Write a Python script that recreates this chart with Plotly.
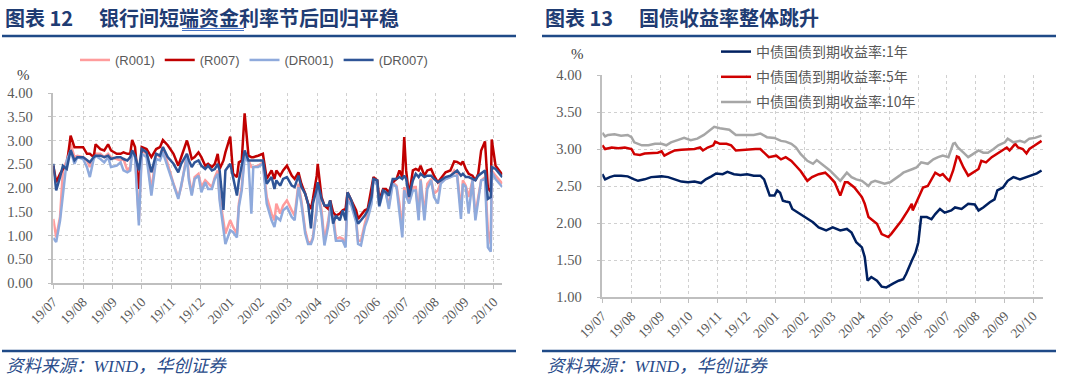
import plotly.graph_objects as go

# ---------------- Left chart data: interbank short-term rates (%) ----------------
mm_dates = [
    "2019-07-01", "2019-07-04", "2019-07-08", "2019-07-11", "2019-07-15", "2019-07-19", "2019-07-23", "2019-07-26",
    "2019-08-01", "2019-08-05", "2019-08-08", "2019-08-12", "2019-08-14", "2019-08-19", "2019-08-23", "2019-08-27",
    "2019-08-30", "2019-09-05", "2019-09-09", "2019-09-12", "2019-09-16", "2019-09-19", "2019-09-21", "2019-09-24",
    "2019-09-28", "2019-10-01", "2019-10-06", "2019-10-11", "2019-10-16", "2019-10-20", "2019-10-23", "2019-10-28",
    "2019-11-03", "2019-11-08", "2019-11-11", "2019-11-17", "2019-11-19", "2019-11-22", "2019-11-25", "2019-11-29",
    "2019-12-02", "2019-12-06", "2019-12-09", "2019-12-13", "2019-12-16", "2019-12-19", "2019-12-21", "2019-12-25",
    "2019-12-27", "2020-01-01", "2020-01-04", "2020-01-08", "2020-01-10", "2020-01-13", "2020-01-16", "2020-01-20",
    "2020-01-23", "2020-01-25", "2020-01-30", "2020-02-04", "2020-02-08", "2020-02-13", "2020-02-16", "2020-02-18",
    "2020-02-22", "2020-02-25", "2020-02-29", "2020-03-05", "2020-03-08", "2020-03-12", "2020-03-15", "2020-03-19",
    "2020-03-22", "2020-03-25", "2020-03-27", "2020-03-31", "2020-04-01", "2020-04-05", "2020-04-08", "2020-04-12",
    "2020-04-14", "2020-04-17", "2020-04-20", "2020-04-24", "2020-04-27", "2020-04-30", "2020-05-02", "2020-05-06",
    "2020-05-11", "2020-05-13", "2020-05-16", "2020-05-20", "2020-05-23", "2020-05-27", "2020-05-29", "2020-06-02",
    "2020-06-04", "2020-06-08", "2020-06-11", "2020-06-14", "2020-06-18", "2020-06-22", "2020-06-25", "2020-06-28",
    "2020-06-30", "2020-07-02", "2020-07-05", "2020-07-09", "2020-07-12", "2020-07-15", "2020-07-17", "2020-07-21",
    "2020-07-24", "2020-07-28", "2020-07-31", "2020-08-04", "2020-08-07", "2020-08-12", "2020-08-17", "2020-08-21",
    "2020-08-24", "2020-08-28", "2020-08-30", "2020-09-02", "2020-09-05", "2020-09-09", "2020-09-12", "2020-09-15",
    "2020-09-18", "2020-09-22", "2020-09-25", "2020-09-28", "2020-09-29", "2020-10-03", "2020-10-10",
]
r001 = [
    1.35, 0.96, 1.39, 2.37, 2.58, 2.93, 2.65, 2.68, 2.65, 2.58, 2.44, 2.61, 2.72, 2.72, 2.65, 2.72,
    2.65, 2.61, 2.58, 2.61, 2.37, 2.44, 2.79, 2.72, 1.32, 2.79, 2.72, 1.95, 2.72, 2.65, 2.86, 2.51,
    2.09, 1.81, 2.02, 2.72, 2.23, 1.88, 2.23, 2.30, 2.02, 2.16, 2.09, 2.02, 2.23, 2.37, 1.81, 1.32,
    1.04, 1.32, 1.18, 1.04, 1.67, 2.02, 2.75, 2.58, 2.44, 2.44, 2.47, 2.54, 1.81, 1.46, 1.32, 1.67,
    1.46, 1.63, 1.74, 1.53, 1.42, 2.09, 1.74, 1.11, 0.86, 0.86, 0.96, 1.60, 2.02, 1.53, 0.89, 1.32,
    1.60, 1.49, 0.93, 0.96, 0.93, 0.82, 1.81, 1.67, 1.32, 0.89, 0.89, 1.25, 1.46, 1.74, 2.19, 2.09,
    1.67, 1.95, 1.88, 1.63, 2.12, 2.05, 1.67, 1.11, 2.02, 1.91, 1.70, 2.02, 2.02, 1.39, 2.19, 1.46,
    2.09, 2.19, 1.88, 1.95, 2.12, 2.19, 2.23, 2.37, 2.30, 1.53, 2.16, 2.05, 1.81, 2.16, 1.42, 1.81,
    2.16, 2.23, 1.11, 0.82, 2.37, 2.26, 2.09,
]
r007 = [
    2.47, 2.12, 2.30, 2.40, 2.47, 3.10, 2.86, 2.86, 2.86, 2.72, 2.72, 2.65, 2.92, 2.82, 2.79, 2.92,
    2.79, 2.72, 2.72, 2.75, 2.72, 2.72, 3.01, 2.86, 1.98, 2.86, 2.82, 2.65, 2.82, 2.86, 3.01, 2.90,
    2.72, 2.47, 2.65, 3.00, 2.86, 2.61, 2.65, 2.75, 2.65, 2.47, 2.51, 2.44, 2.51, 2.72, 2.40, 2.58,
    2.75, 3.08, 2.30, 2.23, 2.54, 2.58, 3.57, 2.68, 2.65, 2.65, 2.68, 2.72, 2.19, 2.37, 2.19, 2.37,
    2.26, 2.37, 2.47, 2.26, 2.19, 2.33, 2.09, 1.88, 1.67, 1.56, 1.77, 2.26, 2.51, 1.81, 1.63, 1.56,
    1.74, 1.49, 1.42, 1.46, 1.53, 1.56, 1.91, 1.74, 1.53, 1.35, 1.42, 1.53, 1.56, 2.02, 2.23, 2.16,
    1.74, 1.98, 1.98, 1.91, 2.12, 2.19, 2.37, 2.23, 3.07, 2.37, 1.84, 2.37, 2.40, 2.37, 2.47, 2.26,
    2.37, 2.40, 2.26, 2.12, 2.19, 2.33, 2.37, 2.56, 2.55, 2.50, 2.56, 2.40, 2.30, 2.26, 2.16, 2.30,
    2.79, 2.98, 2.00, 1.92, 3.02, 2.47, 2.28,
]
dr001 = [
    0.95, 0.86, 1.31, 1.80, 2.58, 2.79, 2.51, 2.65, 2.61, 2.44, 2.23, 2.61, 2.68, 2.61, 2.54, 2.65,
    2.44, 2.47, 2.54, 2.37, 2.33, 2.37, 2.75, 2.65, 1.21, 2.72, 2.65, 1.84, 2.61, 2.58, 2.75, 2.44,
    2.05, 1.77, 2.05, 2.65, 2.16, 1.84, 2.19, 2.26, 1.91, 2.12, 1.98, 1.98, 2.19, 2.30, 1.74, 1.11,
    0.82, 1.11, 1.07, 0.96, 1.60, 1.95, 2.65, 2.54, 1.46, 2.44, 2.44, 2.51, 1.67, 1.32, 1.18, 1.39,
    1.32, 1.53, 1.60, 1.39, 1.32, 2.02, 1.67, 1.04, 0.82, 0.82, 0.93, 1.53, 1.95, 1.42, 0.79, 1.21,
    1.60, 1.32, 0.89, 0.89, 0.89, 0.75, 1.74, 1.63, 1.28, 0.82, 0.79, 1.18, 1.35, 1.67, 2.19, 2.05,
    1.60, 1.91, 1.88, 1.56, 2.09, 2.02, 1.46, 0.96, 1.95, 1.84, 1.67, 1.95, 1.95, 1.32, 2.16, 1.32,
    1.98, 2.16, 1.81, 1.67, 2.09, 2.19, 2.23, 2.26, 2.26, 1.35, 2.09, 2.02, 1.46, 2.16, 1.32, 1.74,
    2.16, 2.19, 0.75, 0.66, 2.33, 2.19, 2.02,
]
dr007 = [
    2.51, 1.95, 2.23, 2.47, 2.40, 2.80, 2.58, 2.65, 2.65, 2.58, 2.54, 2.65, 2.68, 2.68, 2.65, 2.68,
    2.61, 2.65, 2.65, 2.61, 2.58, 2.65, 2.79, 2.68, 2.37, 2.82, 2.75, 2.33, 2.72, 2.68, 2.86, 2.65,
    2.51, 2.33, 2.51, 2.72, 2.58, 2.44, 2.54, 2.58, 2.47, 2.40, 2.47, 2.37, 2.40, 2.51, 2.37, 1.54,
    2.37, 2.51, 2.19, 1.84, 2.16, 2.44, 2.79, 2.58, 2.58, 2.58, 2.58, 2.58, 2.09, 2.23, 1.98, 2.16,
    2.05, 2.19, 2.23, 2.05, 2.02, 2.26, 2.02, 1.88, 1.67, 1.15, 1.67, 1.98, 2.12, 1.77, 1.63, 1.63,
    1.74, 1.25, 1.42, 1.32, 1.53, 1.32, 1.91, 1.74, 1.39, 1.25, 1.32, 1.42, 1.53, 1.81, 2.19, 2.16,
    1.63, 1.95, 1.91, 1.84, 2.19, 2.19, 2.23, 2.19, 2.26, 2.19, 1.81, 2.16, 2.30, 2.23, 2.30, 2.23,
    2.26, 2.26, 2.19, 2.12, 2.16, 2.23, 2.26, 2.33, 2.37, 2.26, 2.30, 2.23, 2.23, 2.19, 2.16, 2.26,
    2.30, 2.37, 1.77, 1.81, 2.44, 2.40, 2.23,
]
mm_names = ["(R001)", "(R007)", "(DR001)", "(DR007)"]
mm_colors = ["#FF9C9C", "#C00000", "#8FAADC", "#2F5597"]

# ---------------- Right chart data: ChinaBond government bond yields (%) ----------------
y1_dates = [
    "2019-07-01", "2019-07-04", "2019-07-09", "2019-07-14", "2019-07-21", "2019-07-28", "2019-08-04", "2019-08-08",
    "2019-08-15", "2019-08-22", "2019-09-02", "2019-09-09", "2019-09-16", "2019-09-23", "2019-09-30", "2019-10-07",
    "2019-10-14", "2019-10-19", "2019-10-25", "2019-10-30", "2019-11-06", "2019-11-11", "2019-11-18", "2019-11-25",
    "2019-12-02", "2019-12-09", "2019-12-16", "2019-12-20", "2019-12-23", "2019-12-26", "2019-12-31", "2020-01-03",
    "2020-01-06", "2020-01-09", "2020-01-12", "2020-01-16", "2020-01-19", "2020-01-25", "2020-01-30", "2020-02-04",
    "2020-02-10", "2020-02-16", "2020-02-24", "2020-03-02", "2020-03-10", "2020-03-17", "2020-03-22", "2020-03-27",
    "2020-04-02", "2020-04-05", "2020-04-08", "2020-04-12", "2020-04-18", "2020-04-23", "2020-04-28", "2020-05-05",
    "2020-05-11", "2020-05-16", "2020-05-19", "2020-05-25", "2020-05-29", "2020-06-01", "2020-06-04", "2020-06-10",
    "2020-06-15", "2020-06-19", "2020-06-24", "2020-06-29", "2020-07-06", "2020-07-10", "2020-07-17", "2020-07-24",
    "2020-07-31", "2020-08-04", "2020-08-09", "2020-08-16", "2020-08-21", "2020-08-24", "2020-08-30", "2020-09-04",
    "2020-09-10", "2020-09-17", "2020-09-24", "2020-09-29", "2020-10-05", "2020-10-10",
]
y1 = [
    2.66, 2.59, 2.62, 2.64, 2.64, 2.63, 2.59, 2.57, 2.59, 2.62, 2.63, 2.62, 2.59, 2.56, 2.55, 2.56,
    2.54, 2.59, 2.63, 2.67, 2.66, 2.69, 2.66, 2.65, 2.66, 2.64, 2.64, 2.59, 2.48, 2.37, 2.37, 2.44,
    2.41, 2.30, 2.29, 2.28, 2.19, 2.14, 2.10, 2.05, 2.01, 1.94, 1.90, 1.94, 1.90, 1.92, 1.87, 1.74,
    1.67, 1.54, 1.22, 1.27, 1.22, 1.14, 1.13, 1.18, 1.22, 1.24, 1.31, 1.49, 1.60, 1.74, 2.08, 2.08,
    2.05, 2.12, 2.19, 2.14, 2.17, 2.21, 2.19, 2.26, 2.25, 2.17, 2.21, 2.28, 2.32, 2.44, 2.48, 2.57,
    2.62, 2.59, 2.62, 2.64, 2.67, 2.71,
]
y5_dates = [
    "2019-07-01", "2019-07-04", "2019-07-11", "2019-07-18", "2019-07-25", "2019-08-01", "2019-08-04", "2019-08-10",
    "2019-08-15", "2019-08-22", "2019-08-29", "2019-09-02", "2019-09-05", "2019-09-11", "2019-09-16", "2019-09-23",
    "2019-09-30", "2019-10-07", "2019-10-13", "2019-10-16", "2019-10-21", "2019-10-27", "2019-10-29", "2019-11-03",
    "2019-11-10", "2019-11-15", "2019-11-20", "2019-11-27", "2019-12-04", "2019-12-11", "2019-12-16", "2019-12-20",
    "2019-12-25", "2020-01-02", "2020-01-07", "2020-01-12", "2020-01-18", "2020-01-23", "2020-01-28", "2020-02-04",
    "2020-02-09", "2020-02-16", "2020-02-23", "2020-02-28", "2020-03-04", "2020-03-10", "2020-03-15", "2020-03-18",
    "2020-03-25", "2020-04-02", "2020-04-05", "2020-04-09", "2020-04-14", "2020-04-18", "2020-04-23", "2020-04-30",
    "2020-05-03", "2020-05-09", "2020-05-14", "2020-05-21", "2020-05-25", "2020-05-26", "2020-06-03", "2020-06-06",
    "2020-06-11", "2020-06-13", "2020-06-19", "2020-06-24", "2020-06-27", "2020-07-02", "2020-07-04", "2020-07-08",
    "2020-07-12", "2020-07-14", "2020-07-19", "2020-07-24", "2020-07-29", "2020-08-04", "2020-08-07", "2020-08-12",
    "2020-08-18", "2020-08-23", "2020-08-28", "2020-09-03", "2020-09-06", "2020-09-12", "2020-09-15", "2020-09-20",
    "2020-09-24", "2020-09-27", "2020-10-03", "2020-10-08", "2020-10-10",
]
y5 = [
    3.05, 3.00, 3.02, 3.01, 3.02, 3.00, 2.93, 2.92, 2.94, 2.95, 2.95, 2.97, 2.91, 2.95, 2.98, 2.99,
    3.00, 3.00, 3.02, 2.98, 3.02, 3.05, 3.10, 3.07, 3.07, 3.05, 2.98, 2.99, 2.99, 3.00, 3.00, 2.95,
    2.89, 2.91, 2.86, 2.89, 2.84, 2.77, 2.70, 2.57, 2.62, 2.66, 2.68, 2.62, 2.55, 2.37, 2.55, 2.55,
    2.48, 2.35, 2.26, 2.08, 2.03, 1.99, 1.85, 1.81, 1.85, 1.94, 2.03, 2.17, 2.26, 2.17, 2.39, 2.48,
    2.50, 2.55, 2.68, 2.64, 2.66, 2.59, 2.57, 2.71, 2.90, 2.89, 2.75, 2.64, 2.68, 2.73, 2.84, 2.82,
    2.89, 2.93, 2.98, 3.02, 2.98, 3.07, 3.02, 3.00, 2.94, 3.00, 3.05, 3.09, 3.11,
]
y10_dates = [
    "2019-07-01", "2019-07-04", "2019-07-07", "2019-07-14", "2019-07-21", "2019-07-28", "2019-08-01", "2019-08-04",
    "2019-08-12", "2019-08-19", "2019-08-26", "2019-09-02", "2019-09-07", "2019-09-12", "2019-09-19", "2019-09-26",
    "2019-10-03", "2019-10-10", "2019-10-17", "2019-10-22", "2019-10-28", "2019-11-03", "2019-11-08", "2019-11-13",
    "2019-11-20", "2019-11-27", "2019-12-02", "2019-12-09", "2019-12-16", "2019-12-23", "2019-12-31", "2020-01-07",
    "2020-01-12", "2020-01-18", "2020-01-23", "2020-01-28", "2020-02-04", "2020-02-10", "2020-02-14", "2020-02-19",
    "2020-02-28", "2020-03-10", "2020-03-17", "2020-03-22", "2020-03-27", "2020-04-02", "2020-04-09", "2020-04-12",
    "2020-04-16", "2020-04-21", "2020-04-26", "2020-05-02", "2020-05-07", "2020-05-12", "2020-05-16", "2020-05-21",
    "2020-05-26", "2020-05-30", "2020-06-04", "2020-06-11", "2020-06-17", "2020-06-22", "2020-06-27", "2020-07-03",
    "2020-07-08", "2020-07-10", "2020-07-13", "2020-07-19", "2020-07-24", "2020-07-29", "2020-08-04", "2020-08-09",
    "2020-08-14", "2020-08-20", "2020-08-25", "2020-09-01", "2020-09-04", "2020-09-10", "2020-09-17", "2020-09-22",
    "2020-09-27", "2020-10-03", "2020-10-10",
]
y10 = [
    3.22, 3.17, 3.19, 3.20, 3.18, 3.19, 3.16, 3.09, 3.05, 3.05, 3.07, 3.07, 3.05, 3.09, 3.12, 3.15,
    3.12, 3.14, 3.19, 3.24, 3.30, 3.28, 3.27, 3.26, 3.19, 3.19, 3.20, 3.19, 3.21, 3.16, 3.15, 3.11,
    3.10, 3.07, 3.02, 2.93, 2.84, 2.80, 2.85, 2.80, 2.71, 2.57, 2.68, 2.62, 2.59, 2.57, 2.50, 2.55,
    2.57, 2.55, 2.53, 2.55, 2.59, 2.64, 2.68, 2.71, 2.73, 2.75, 2.82, 2.80, 2.86, 2.89, 2.91, 2.89,
    3.07, 3.08, 3.02, 2.95, 2.89, 2.93, 2.98, 2.95, 2.95, 3.00, 3.05, 3.09, 3.14, 3.09, 3.11, 3.09,
    3.14, 3.15, 3.18,
]
yld_names = ["中债国债到期收益率:1年", "中债国债到期收益率:5年", "中债国债到期收益率:10年"]
yld_colors = ["#002060", "#D00000", "#A6A6A6"]

# y-axis ticks
left_ticks = [0.0, 0.5, 1.0, 1.5, 2.0, 2.5, 3.0, 3.5, 4.0]
right_ticks = [1.0, 1.5, 2.0, 2.5, 3.0, 3.5, 4.0]

# ---------------- Figure ----------------
W, H = 1080, 378
def px(x):
    return x / W
def py(y):
    return 1 - y / H

NAVY = "#1F3C73"
RULE = "#1F4A87"
TICKC = "#595959"
GRID = "#D0D0D0"
AXC = "#BFBFBF"

fig = go.Figure()
for name, vals, col in zip(mm_names, [r001, r007, dr001, dr007], mm_colors):
    fig.add_trace(go.Scatter(x=mm_dates, y=vals, name=name, mode="lines",
                             line=dict(color=col, width=2.5), xaxis="x", yaxis="y",
                             legend="legend"))
for i, (name, d, vals, col) in enumerate(zip(yld_names, [y1_dates, y5_dates, y10_dates],
                                            [y1, y5, y10], yld_colors)):
    fig.add_trace(go.Scatter(x=d, y=vals, name=name, mode="lines",
                             line=dict(color=col, width=2.5), xaxis="x2", yaxis="y2",
                             legend="legend2", legendgroup="g%d" % i))

serif = "Liberation Serif, DejaVu Serif, serif"
xcommon = dict(type="date", dtick="M1", tick0="2019-07-01", tickformat="%y/%m", tickangle=-45,
               showgrid=True, gridcolor=GRID, griddash="dot", gridwidth=1,
               showline=True, linecolor=AXC, linewidth=1.5, ticks="outside", ticklen=4,
               tickcolor=AXC, tickfont=dict(family=serif, size=13.5, color=TICKC),
               zeroline=False, fixedrange=True, automargin=False)
ycommon = dict(showgrid=True, gridcolor=GRID, griddash="dot", gridwidth=1,
               showline=True, linecolor=AXC, linewidth=1.5, ticks="outside", ticklen=4,
               tickcolor=AXC, tickfont=dict(family=serif, size=14.5, color=TICKC),
               zeroline=False, tickformat=".2f", ticklabelstandoff=12, fixedrange=True,
               automargin=False)

fig.update_layout(
    width=W, height=H, autosize=False,
    margin=dict(l=0, r=0, t=0, b=0, pad=0, autoexpand=False),
    paper_bgcolor="white", plot_bgcolor="white",
    xaxis=dict(xcommon, domain=[px(53.3), px(502.3)], range=["2019-07-01", "2020-10-10"], anchor="y"),
    yaxis=dict(ycommon, domain=[py(283), py(93)], range=[0, 4], tickvals=left_ticks, anchor="x"),
    xaxis2=dict(xcommon, domain=[px(602.3), px(1042.5)], range=["2019-07-01", "2020-10-11"], anchor="y2"),
    yaxis2=dict(ycommon, domain=[py(297), py(75)], range=[1, 4], tickvals=right_ticks, anchor="x2"),
    legend=dict(orientation="h", x=px(75), y=py(60), xanchor="left", yanchor="middle",
                font=dict(family="Liberation Sans, Arial, sans-serif", size=13, color=TICKC),
                bgcolor="rgba(0,0,0,0)", traceorder="normal"),
    legend2=dict(orientation="v", x=px(716), y=py(36), xanchor="left", yanchor="top",
                 font=dict(family="Noto Sans CJK SC, sans-serif", size=14, color=TICKC),
                 bgcolor="rgba(0,0,0,0)", tracegroupgap=4, traceorder="grouped"),
    showlegend=True,
)

title_font = dict(family="Noto Sans CJK SC, sans-serif", size=20, color=NAVY)
src_font = dict(family="Liberation Serif, Noto Sans CJK SC, serif", size=17.5, color="#2A4C8A", style="italic")
pct_font = dict(family=serif, size=15, color="#404040")
ann = [
    dict(text="<b>图表 12</b>", x=px(3), y=py(17)),
    dict(text="<b>银行间短端资金利率节后回归平稳</b>", x=px(97), y=py(17)),
    dict(text="<b>图表 13</b>", x=px(543), y=py(17)),
    dict(text="<b>国债收益率整体跳升</b>", x=px(637), y=py(17)),
]
annotations = []
for a in ann:
    annotations.append(dict(a, xref="paper", yref="paper", xanchor="left", yanchor="middle",
                            showarrow=False, font=title_font))
for xx in (4, 545):
    annotations.append(dict(text="资料来源：WIND，华创证券", x=px(xx), y=py(366), xref="paper", yref="paper",
                            xanchor="left", yanchor="middle", showarrow=False, font=src_font))
annotations.append(dict(text="%", x=px(23), y=py(75), xref="paper", yref="paper", xanchor="center",
                        yanchor="middle", showarrow=False, font=pct_font))
annotations.append(dict(text="%", x=px(577), y=py(54), xref="paper", yref="paper", xanchor="center",
                        yanchor="middle", showarrow=False, font=pct_font))

shapes = []
for (x0, x1) in [(2, 516), (542, 1056)]:
    for yy in (36, 351):
        shapes.append(dict(type="line", xref="paper", yref="paper", x0=px(x0), x1=px(x1),
                           y0=py(yy), y1=py(yy), line=dict(color=RULE, width=2.6)))
for yy in (28.5, 30.5):
    shapes.append(dict(type="line", xref="paper", yref="paper", x0=px(182), x1=px(244),
                       y0=py(yy), y1=py(yy), line=dict(color="#4472C4", width=1)))

fig.update_layout(annotations=annotations, shapes=shapes)
fig.write_html("out.html", config={"displayModeBar": False},
               post_script="document.body.style.margin='0';document.body.style.overflow='hidden';")
